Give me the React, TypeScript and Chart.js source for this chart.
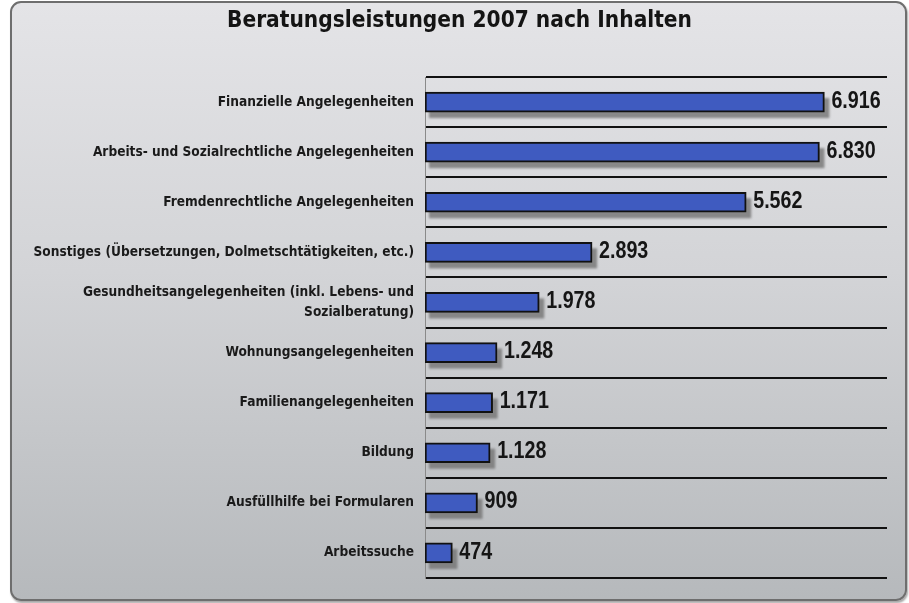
import React, { useEffect, useRef } from "react";
import { Chart, registerables } from "chart.js";

Chart.register(...registerables);

const title = "Beratungsleistungen 2007 nach Inhalten";
const categories: (string | string[])[] = [
  "Finanzielle Angelegenheiten",
  "Arbeits- und Sozialrechtliche Angelegenheiten",
  "Fremdenrechtliche Angelegenheiten",
  "Sonstiges (Übersetzungen, Dolmetschtätigkeiten, etc.)",
  ["Gesundheitsangelegenheiten (inkl. Lebens- und", "Sozialberatung)"],
  "Wohnungsangelegenheiten",
  "Familienangelegenheiten",
  "Bildung",
  "Ausfüllhilfe bei Formularen",
  "Arbeitssuche",
];
const values = [6916, 6830, 5562, 2893, 1978, 1248, 1171, 1128, 909, 474];
const valueLabels = ["6.916", "6.830", "5.562", "2.893", "1.978", "1.248", "1.171", "1.128", "909", "474"];
const xMax = 8000;

const shadowPlugin = {
  id: "barShadow",
  beforeDatasetsDraw(chart: any) {
    const ctx = chart.ctx;
    const meta = chart.getDatasetMeta(0);
    ctx.save();
    ctx.fillStyle = "rgba(115,115,115,0.8)";
    ctx.filter = "blur(1.2px)";
    meta.data.forEach((bar: any) => {
      const h = bar.height;
      const left = Math.min(bar.base, bar.x);
      const w = Math.abs(bar.x - bar.base);
      ctx.fillRect(left + 4, bar.y - h / 2 + 6, w + 1, h);
    });
    ctx.restore();
  },
};

const NARROW = 0.82;

const valueLabelPlugin = {
  id: "valueLabels",
  afterDatasetsDraw(chart: any) {
    const ctx = chart.ctx;
    const meta = chart.getDatasetMeta(0);
    ctx.save();
    ctx.font = "bold 24px 'Liberation Sans', Arial, sans-serif";
    ctx.fillStyle = "#151515";
    ctx.textBaseline = "middle";
    ctx.textAlign = "left";
    meta.data.forEach((bar: any, i: number) => {
      ctx.save();
      ctx.translate(bar.x + 7, bar.y - 1);
      ctx.scale(NARROW, 1);
      ctx.fillText(valueLabels[i], 0, 0);
      ctx.restore();
    });
    ctx.restore();
  },
};

const titlePlugin = {
  id: "narrowTitle",
  afterDraw(chart: any) {
    const ctx = chart.ctx;
    ctx.save();
    ctx.font = "bold 22.5px 'DejaVu Sans Condensed', 'DejaVu Sans', sans-serif";
    ctx.fillStyle = "#141414";
    ctx.textBaseline = "alphabetic";
    ctx.textAlign = "center";
    const w = ctx.measureText(title).width;
    const sx = 465 / w;
    ctx.translate(459.5, 27);
    ctx.scale(sx, 1);
    ctx.fillText(title, 0, 0);
    ctx.restore();
  },
};

export default function App() {
  const ref = useRef<HTMLCanvasElement | null>(null);
  useEffect(() => {
    if (!ref.current) return;
    const chart = new Chart(ref.current, {
      type: "bar",
      data: {
        labels: categories,
        datasets: [
          {
            data: values,
            backgroundColor: (c: any) => {
              const chartObj = c.chart;
              const el = c.element;
              if (!el || !chartObj.chartArea || !Number.isFinite(el.y)) return "#3f5bc0";
              const g = chartObj.ctx.createLinearGradient(0, el.y - 10, 0, el.y + 10);
              g.addColorStop(0, "#4a67c9");
              g.addColorStop(0.5, "#3f5bc2");
              g.addColorStop(1, "#3550b0");
              return g;
            },
            borderColor: "#111111",
            borderWidth: 2,
            borderSkipped: false,
            barThickness: 20,
          },
        ],
      },
      plugins: [shadowPlugin, valueLabelPlugin, titlePlugin],
      options: {
        indexAxis: "y",
        responsive: false,
        animation: false,
        layout: { padding: { left: 0, right: 22, top: 77, bottom: 25 } },
        plugins: {
          legend: { display: false },
          tooltip: { enabled: false },
          title: { display: false },
        },
        scales: {
          x: {
            display: false,
            min: 0,
            max: xMax,
          },
          y: {
            afterFit: (scale: any) => {
              scale.width = 425;
            },
            grid: {
              offset: true,
              color: "#111111",
              lineWidth: 2,
              drawTicks: false,
            },
            border: { display: true, color: "#8a8a8a", width: 1 },
            ticks: {
              color: "#1a1a1a",
              padding: 11,
              font: {
                family: "'DejaVu Sans Condensed', 'DejaVu Sans', sans-serif",
                size: 13.6,
                weight: "bold",
                lineHeight: 1.45,
              },
            },
          },
        },
      },
    } as any);
    return () => chart.destroy();
  }, []);

  return (
    <div style={{ position: "fixed", left: 0, top: 0, width: 909, height: 603 }}>
      <div
        style={{
          position: "absolute",
          left: 10,
          top: 1,
          width: 893,
          height: 596,
          border: "2px solid #6e6e6e",
          borderRadius: 11,
          background: "linear-gradient(to bottom, #e4e4e7 0%, #d3d4d7 45%, #b6b9bc 100%)",
          boxShadow: "1px 2px 2px rgba(0,0,0,0.35)",
        }}
      />
      <canvas ref={ref} width={909} height={603} style={{ position: "absolute", left: 0, top: 0 }} />
    </div>
  );
}
